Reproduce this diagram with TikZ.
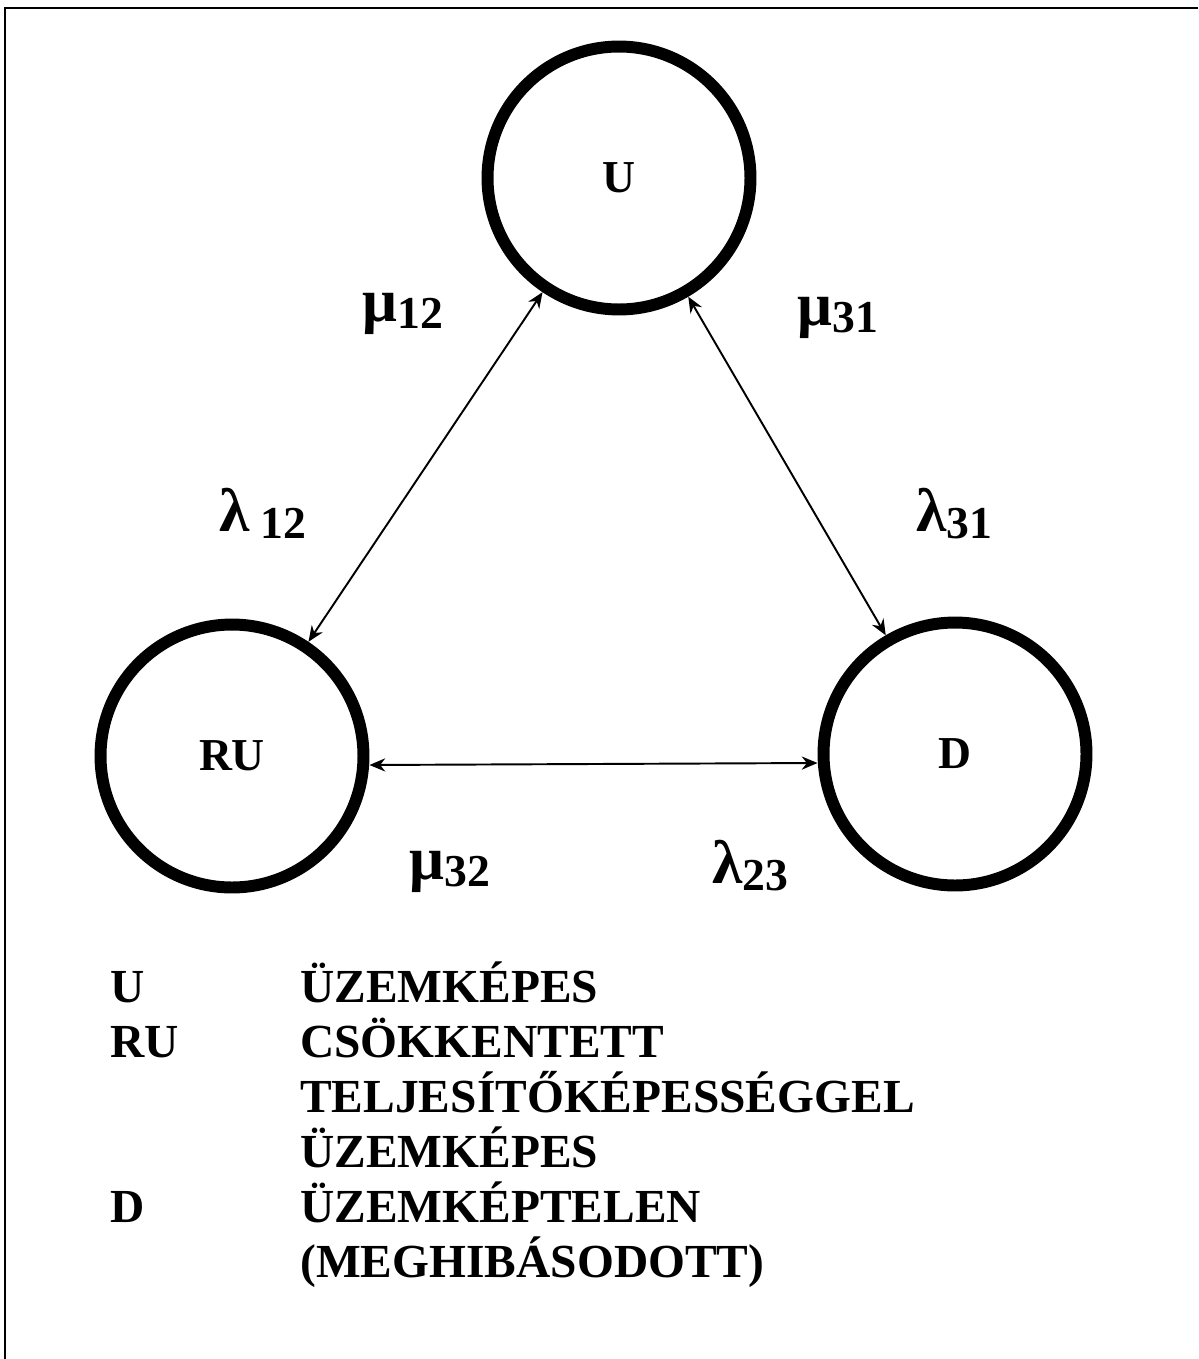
\documentclass[tikz,border=0pt]{standalone}
\usepackage{fontspec}
\setmainfont{Liberation Serif}
\usetikzlibrary{arrows.meta,calc}
\newcommand\ratelbl[2]{{\fontsize{35}{35}\selectfont #1}{\fontsize{26}{26}\selectfont\raisebox{-4pt}{#2}}}
\begin{document}
\begin{tikzpicture}[x=0.02cm,y=-0.02cm,
  state/.style={circle,draw,line width=6.8pt,minimum size=5.26cm,inner sep=0pt,
    font=\fontsize{26}{30}\selectfont\bfseries},
  link/.style={line width=1.1pt,{Stealth[length=9pt,width=7.5pt]}-{Stealth[length=9pt,width=7.5pt]}},
  rate/.style={anchor=base west,inner sep=0pt,font=\bfseries},
  legend/.style={anchor=base west,inner sep=0pt,font=\fontsize{27}{31}\selectfont\bfseries},
  frame/.style={line width=1.2pt}]
\useasboundingbox (0,0) rectangle (1198,1359);
% frame (top and left edges visible)
\coordinate (ftr) at (1198,8);
\coordinate (ftl) at (5,8);
\coordinate (fbl) at (5,1359);
\draw[frame] (ftr) -- (ftl) -- (fbl);
% states
\node[state] (U) at (619,178) {U};
\node[state] (RU) at (232,756) {RU};
\node[state] (D) at (955,754) {D};
% transitions
\draw[link] (U) -- (RU);
\draw[link] (U) -- (D);
\draw[link] ($(RU.east)+(0,9)$) -- ($(D.west)+(0,9)$);
% rate labels
\node[rate] (m12) at (362,321) {\ratelbl{μ}{12}};
\node[rate] (m31) at (797,325) {\ratelbl{μ}{31}};
\node[rate] (l12) at (219,531) {\ratelbl{λ}{\ 12}};
\node[rate] (l31) at (916,531) {\ratelbl{λ}{31}};
\node[rate] (m32) at (409,879) {\ratelbl{μ}{32}};
\node[rate] (l23) at (712,883) {\ratelbl{λ}{23}};
% legend
\node[legend] (k1) at (110,1002) {U};
\node[legend] (d1) at (300,1002) {ÜZEMKÉPES};
\node[legend] (k2) at (110,1057) {RU};
\node[legend] (d2) at (300,1057) {CSÖKKENTETT};
\node[legend] (d3) at (300,1112) {TELJESÍTŐKÉPESSÉGGEL};
\node[legend] (d4) at (300,1167) {ÜZEMKÉPES};
\node[legend] (k3) at (110,1222) {D};
\node[legend] (d5) at (300,1222) {ÜZEMKÉPTELEN};
\node[legend] (d6) at (300,1277) {(MEGHIBÁSODOTT)};
\end{tikzpicture}
\end{document}
